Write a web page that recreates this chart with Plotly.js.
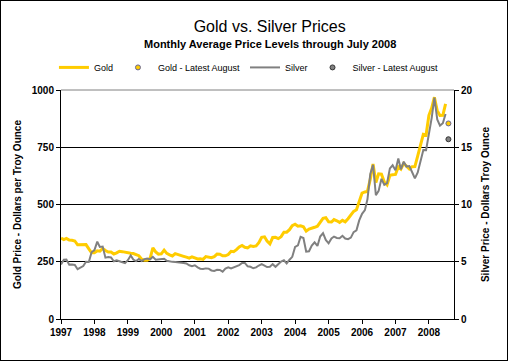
<!DOCTYPE html>
<html>
<head>
<meta charset="utf-8">
<script src="https://cdn.plot.ly/plotly-3.0.1.min.js"></script>
<style>
html,body{margin:0;padding:0;background:#fff;}
#frame{width:506px;height:359px;border:1px solid #000;}
</style>
</head>
<body>
<div id="frame"><div id="chart" style="width:506px;height:359px;"></div></div>
<script>
// Monthly average prices, Jan 1997 .. Jul 2008
var startYear = 1997;
var gold = [
  354.1,346.6,351.8,344.5,343.8,340.8,324.1,324.0,322.8,324.9,306.0,289.2, // 1997
  289.1,297.5,295.9,308.4,299.1,292.3,292.9,284.1,289.0,295.9,294.1,291.6, // 1998
  287.1,287.3,285.9,282.6,276.4,261.3,256.1,256.7,264.7,310.7,293.2,283.1, // 1999
  284.6,300.9,286.4,280.0,275.3,285.7,281.6,274.5,273.7,270.0,266.0,271.5, // 2000
  265.5,261.9,263.0,260.5,272.4,270.2,267.5,272.4,283.4,283.1,276.2,275.9, // 2001
  281.7,295.5,294.0,302.7,314.5,321.2,313.3,310.3,319.2,316.6,319.2,333.4, // 2002
  356.9,359.0,340.6,328.2,355.7,356.4,351.0,359.8,378.9,378.9,389.9,407.6, // 2003
  414.0,405.3,406.7,403.0,383.5,392.4,398.1,400.5,405.3,420.5,439.4,442.1, // 2004
  424.0,423.4,434.2,428.9,421.9,430.7,424.5,437.9,456.0,469.9,476.7,510.1, // 2005
  549.9,555.0,557.1,610.6,676.5,596.2,633.8,632.6,598.2,585.8,627.8,629.8, // 2006
  631.2,664.8,654.9,679.4,666.9,655.5,665.3,665.4,712.7,754.6,806.3,803.2, // 2007
  889.6,922.3,968.4,909.7,888.7,889.5,939.8                                // 2008
];
var silver = [
  4.77,5.18,5.20,4.75,4.76,4.72,4.35,4.48,4.62,5.00,4.98,5.83,   // 1997
  6.02,6.76,6.30,6.33,5.36,5.42,5.38,5.04,5.13,5.05,4.97,4.88,   // 1998
  5.14,5.55,5.19,5.06,5.25,5.07,5.23,5.29,5.21,5.43,5.18,5.22,   // 1999
  5.20,5.26,5.09,5.03,4.99,4.98,4.97,4.90,4.90,4.85,4.69,4.62,   // 2000
  4.69,4.51,4.39,4.36,4.42,4.40,4.24,4.20,4.30,4.29,4.14,4.40,   // 2001
  4.52,4.41,4.52,4.57,4.71,4.90,4.90,4.60,4.56,4.43,4.51,4.67,   // 2002
  4.80,4.66,4.54,4.56,4.79,4.56,4.79,5.02,5.13,4.86,5.18,5.43,   // 2003
  6.30,6.44,7.18,7.07,5.89,5.92,6.41,6.70,6.38,7.20,7.50,6.91,   // 2004
  6.61,7.03,7.20,7.08,7.05,7.27,7.03,6.97,7.11,7.59,7.74,8.61,   // 2005
  9.19,9.51,10.45,12.66,13.47,10.81,11.19,12.24,11.72,11.86,13.15,13.43, // 2006
  12.98,14.01,13.07,13.74,13.31,13.36,12.84,12.28,12.80,13.69,14.76,14.75, // 2007
  16.11,17.59,19.33,17.43,16.89,17.10,17.90                      // 2008
];
var latestMonth = ['2008-08-01'];
var goldLatest = [854];
var silverLatest = [15.7];

var yearTicks = ['1997','1998','1999','2000','2001','2002','2003','2004','2005','2006','2007','2008'];

var months = [];
for (var i = 0; i < gold.length; i++) {
  var y = startYear + Math.floor(i / 12);
  var m = (i % 12) + 1;
  months.push(y + '-' + (m < 10 ? '0' + m : m) + '-01');
}
var tickvals = yearTicks.map(function (t) { return t + '-01-01'; });

var FONT = 'Arial, "Liberation Sans", sans-serif';

var traces = [
  {x: months, y: gold, name: 'Gold', type: 'scatter', mode: 'lines',
   line: {color: '#FFCC00', width: 3}, yaxis: 'y'},
  {x: latestMonth, y: goldLatest, name: 'Gold - Latest August', type: 'scatter', mode: 'markers',
   marker: {color: '#FFCC00', size: 5, line: {color: '#666699', width: 1}}, yaxis: 'y'},
  {x: months, y: silver, name: 'Silver', type: 'scatter', mode: 'lines',
   line: {color: '#808080', width: 2}, yaxis: 'y2'},
  {x: latestMonth, y: silverLatest, name: 'Silver - Latest August', type: 'scatter', mode: 'markers',
   marker: {color: '#808080', size: 5, line: {color: '#333333', width: 1}}, yaxis: 'y2'}
];

var layout = {
  width: 506, height: 359,
  margin: {l: 60, r: 53, t: 89, b: 41},
  paper_bgcolor: '#ffffff', plot_bgcolor: '#ffffff',
  font: {family: FONT, color: '#000000', size: 10},
  showlegend: true,
  title: {
    text: 'Gold vs. Silver Prices',
    font: {family: FONT, size: 16, color: '#000'},
    xref: 'container', x: 0.531, xanchor: 'center',
    yref: 'container', y: 0.930, yanchor: 'middle'
  },
  annotations: [
    {text: 'Monthly Average Price Levels through July 2008', showarrow: false,
     xref: 'paper', yref: 'paper', x: 0.532, y: 1.2009, xanchor: 'center', yanchor: 'middle',
     font: {family: FONT, size: 11, color: '#000', weight: 'bold'}}
  ],
  legend: {
    orientation: 'h', xref: 'container', yref: 'container',
    x: 0.49, xanchor: 'center', y: 0.815, yanchor: 'middle',
    font: {family: FONT, size: 9, color: '#000'},
    bgcolor: 'rgba(0,0,0,0)', traceorder: 'normal'
  },
  xaxis: {
    type: 'date',
    range: ['1997-01-01', '2008-10-01'],
    tickmode: 'array', tickvals: tickvals, ticktext: yearTicks,
    ticks: 'outside', ticklen: 4, tickcolor: '#000', tickwidth: 1,
    showline: true, linecolor: '#000', linewidth: 1,
    showgrid: false, zeroline: false,
    tickfont: {family: FONT, size: 10, color: '#000', weight: 'bold'}
  },
  yaxis: {
    range: [0, 1000], dtick: 250, tick0: 0,
    ticks: 'outside', ticklen: 4, tickcolor: '#000',
    showline: true, linecolor: '#000', linewidth: 1,
    showgrid: true, gridcolor: '#000', gridwidth: 1, zeroline: false,
    tickfont: {family: FONT, size: 10, color: '#000', weight: 'bold'},
    title: {text: 'Gold Price - Dollars per Troy Ounce', standoff: 8,
            font: {family: FONT, size: 10, color: '#000', weight: 'bold'}}
  },
  yaxis2: {
    range: [0, 20], dtick: 5, tick0: 0,
    overlaying: 'y', side: 'right',
    ticks: 'outside', ticklen: 4, tickcolor: '#000',
    showline: true, linecolor: '#000', linewidth: 1,
    showgrid: false, zeroline: false,
    tickfont: {family: FONT, size: 10, color: '#000', weight: 'bold'},
    title: {text: 'Silver Price - Dollars Troy Ounce', standoff: 10,
            font: {family: FONT, size: 10, color: '#000', weight: 'bold'}}
  },
  shapes: [
    {type: 'line', xref: 'paper', yref: 'paper', x0: 0, x1: 1, y0: 1, y1: 1,
     line: {color: '#808080', width: 1}, layer: 'above'}
  ]
};

Plotly.newPlot('chart', traces, layout, {displayModeBar: false, staticPlot: true});
</script>
</body>
</html>
